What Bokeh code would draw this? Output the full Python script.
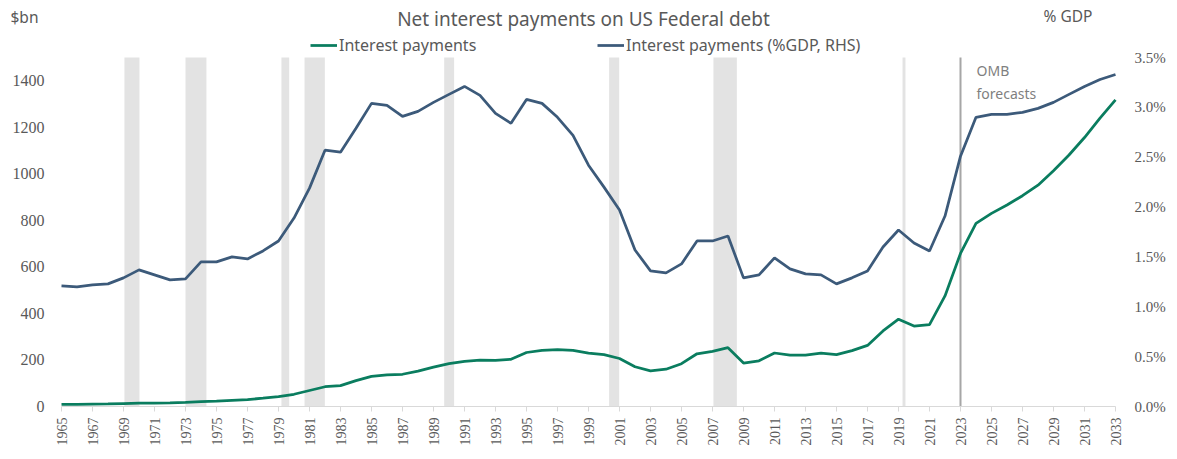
import math
from bokeh.plotting import figure
from bokeh.models import (Range1d, Label, LabelSet, Legend, LegendItem, ColumnDataSource)
from bokeh.embed import file_html
from bokeh.resources import INLINE

# ---------------- data ----------------
years = list(range(1965, 2034))
interest_bn = [8.6, 9.4, 10.3, 11.1, 12.7, 14.4, 14.8, 15.5, 17.3, 21.4,
               23.2, 26.7, 29.9, 35.5, 42.6, 52.5, 68.8, 85.0, 89.8, 111.1,
               129.5, 136.0, 138.6, 151.8, 169.0, 184.3, 194.4, 199.3, 198.7, 202.9,
               232.1, 241.1, 244.0, 241.1, 229.8, 222.9, 206.2, 170.9, 153.1, 160.2,
               184.0, 226.6, 237.1, 252.8, 186.9, 196.2, 230.0, 220.4, 220.9, 229.0,
               223.2, 240.0, 262.6, 325.0, 375.2, 345.5, 352.3, 475.1, 658.0, 787.0,
               830.0, 866.0, 906.0, 951.0, 1013.0, 1081.0, 1156.0, 1239.0, 1318.0]
interest_pct_gdp = [1.21, 1.20, 1.22, 1.23, 1.29, 1.37, 1.32, 1.27, 1.28, 1.45,
                    1.45, 1.50, 1.48, 1.56, 1.66, 1.89, 2.19, 2.57, 2.55, 2.79,
                    3.04, 3.02, 2.91, 2.96, 3.05, 3.13, 3.21, 3.12, 2.94, 2.84,
                    3.08, 3.04, 2.90, 2.72, 2.42, 2.20, 1.97, 1.57, 1.36, 1.34,
                    1.43, 1.66, 1.66, 1.71, 1.29, 1.32, 1.49, 1.38, 1.33, 1.32,
                    1.23, 1.29, 1.36, 1.60, 1.77, 1.64, 1.56, 1.91, 2.51, 2.90,
                    2.93, 2.93, 2.95, 2.99, 3.05, 3.13, 3.21, 3.28, 3.33]
recession_start = [1969.06, 1973.00, 1979.19, 1980.68, 1989.69, 2000.33, 2007.06, 2019.26]
recession_end = [1970.03, 1974.35, 1979.69, 1981.99, 1990.33, 2000.98, 2008.57, 2019.45]
forecast_start = 2023
left_ticks = [0, 200, 400, 600, 800, 1000, 1200, 1400]
left_tick_labels = [str(t) for t in left_ticks]
right_ticks = [0.0, 0.5, 1.0, 1.5, 2.0, 2.5, 3.0, 3.5]
right_tick_labels = [f"{t:.1f}%" for t in right_ticks]
x_ticks = list(range(1965, 2034, 2))
x_tick_labels = [str(t) for t in x_ticks]
x_first, x_last = 1965, 2033
left_max = 1500
right_max = 3.5

title_text = "Net interest payments on US Federal debt"
FONT = "Noto Sans"
TXT = "#595959"
GREEN = "#0a7d5f"
BLUE = "#3c5a7a"
AXIS = "#d9d9d9"

# layout (pixels): plot area 1054 x 349 placed 61px from the left of the canvas and
# 406px from its top; the frame covers the whole canvas so that no text is clipped
W, H = 1175, 457
PLOT_W, PLOT_H = 1054, 349
PAD_L, PLOT_BOTTOM = 61, 406
ppy = PLOT_W / (x_last - x_first)          # px per year
ppv = PLOT_H / left_max                    # px per $bn
below = H - PLOT_BOTTOM                    # px below the plot area
x_start = x_first - PAD_L / ppy
x_end = x_start + W / ppy
y_lo, y_hi = -below / ppv, PLOT_BOTTOM / ppv
r_scale = right_max / left_max

src = ColumnDataSource(dict(year=years, bn=interest_bn, pct=interest_pct_gdp))
rec = ColumnDataSource(dict(l=recession_start, r=recession_end,
                            b=[0] * len(recession_start), t=[left_max] * len(recession_start)))
lt = ColumnDataSource(dict(y=left_ticks, txt=left_tick_labels))
rt = ColumnDataSource(dict(y=right_ticks, txt=right_tick_labels))
xt = ColumnDataSource(dict(x=x_ticks, txt=x_tick_labels,
                           y0=[0] * len(x_ticks), y1=[-5 / ppv] * len(x_ticks)))

p = figure(width=W, height=H, x_axis_location=None, y_axis_location=None,
           min_border_left=0, min_border_right=0, min_border_top=0, min_border_bottom=0,
           x_range=Range1d(x_start, x_end), y_range=Range1d(y_lo, y_hi),
           output_backend="svg", toolbar_location=None, tools="")
p.title.visible = False
p.outline_line_color = None
p.xgrid.visible = False
p.ygrid.visible = False
p.background_fill_color = "white"
p.border_fill_color = "white"

p.extra_y_ranges = {"pct": Range1d(y_lo * r_scale, y_hi * r_scale)}

# recession shading
p.quad(left="l", right="r", bottom="b", top="t", source=rec,
       fill_color="#e3e3e3", line_color=None)

# forecast divider
p.segment(x0=[forecast_start], y0=[0], x1=[forecast_start], y1=[left_max],
          line_color="#a6a6a6", line_width=2)

# x axis: line, ticks and rotated labels
p.segment(x0=[x_first], y0=[0], x1=[x_last], y1=[0], line_color=AXIS, line_width=1)
p.segment(x0="x", y0="y0", x1="x", y1="y1", source=xt, line_color=AXIS, line_width=1)
p.add_layout(LabelSet(x="x", y=below - 11, y_units="screen", text="txt", source=xt,
                      angle=math.pi / 2, text_align="right", text_baseline="middle",
                      text_font=FONT, text_font_size="14px", text_color=TXT))

g = p.line("year", "bn", source=src, line_color=GREEN, line_width=2.75)
b = p.line("year", "pct", source=src, line_color=BLUE, line_width=2.75, y_range_name="pct")

# left axis labels
p.add_layout(LabelSet(x=44, y="y", text="txt", source=lt, x_units="screen",
                      text_align="right", text_baseline="middle", text_font=FONT,
                      text_font_size="16px", text_color=TXT))
# right axis labels
p.add_layout(LabelSet(x=PAD_L + PLOT_W + 19, y="y", text="txt", source=rt, x_units="screen",
                      y_range_name="pct",
                      text_align="left", text_baseline="middle", text_font=FONT,
                      text_font_size="15px", text_color=TXT))

# legends
def mk_legend(label, r, x):
    lg = Legend(items=[LegendItem(label=label, renderers=[r])], location=(x, below + 350),
                orientation="horizontal", padding=0, margin=0, spacing=0,
                glyph_width=27, glyph_height=18, label_height=18, label_standoff=2,
                label_text_font=FONT, label_text_font_size="16px", label_text_color=TXT,
                border_line_color=None, background_fill_alpha=0)
    p.add_layout(lg)

mk_legend("Interest payments", g, 310)
mk_legend("Interest payments (%GDP, RHS)", b, 597)

# texts (screen positions measured from the plot-area bottom)
def screen_label(x, y, text, size, color=TXT, align="left"):
    p.add_layout(Label(x=x, y=below + y, x_units="screen", y_units="screen", text=text,
                       text_align=align, text_baseline="middle", text_font=FONT,
                       text_font_size=size, text_color=color))

screen_label(583, 388, title_text, "19px", align="center")
screen_label(10, 390, "$bn", "15.5px")
screen_label(1043, 391, "% GDP", "15.5px")

for txt, yy in (("OMB", 336), ("forecasts", 313)):
    p.add_layout(Label(x=forecast_start, x_offset=16, y=below + yy, y_units="screen", text=txt,
                       text_align="left", text_baseline="middle", text_font=FONT,
                       text_font_size="14px", text_color="#7f7f7f"))

open("out.html", "w").write(file_html(p, INLINE))
